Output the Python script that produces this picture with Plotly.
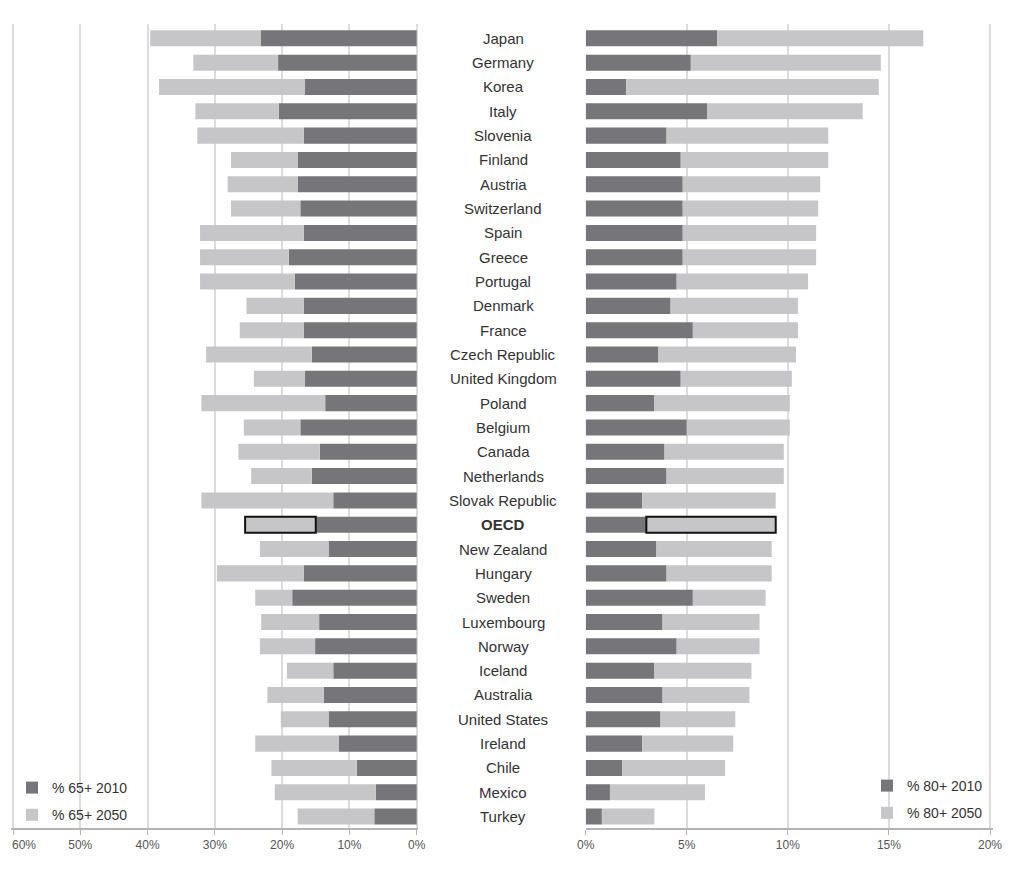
import plotly.graph_objects as go

countries = ["Japan", "Germany", "Korea", "Italy", "Slovenia", "Finland", "Austria",
             "Switzerland", "Spain", "Greece", "Portugal", "Denmark", "France",
             "Czech Republic", "United Kingdom", "Poland", "Belgium", "Canada",
             "Netherlands", "Slovak Republic", "OECD", "New Zealand", "Hungary",
             "Sweden", "Luxembourg", "Norway", "Iceland", "Australia", "United States",
             "Ireland", "Chile", "Mexico", "Turkey"]

p65_2010 = [23.2, 20.6, 16.6, 20.5, 16.8, 17.7, 17.7, 17.3, 16.8, 19.0, 18.1, 16.8, 16.8,
            15.6, 16.6, 13.6, 17.3, 14.4, 15.6, 12.4, 15.0, 13.1, 16.8, 18.5, 14.5, 15.1,
            12.4, 13.8, 13.1, 11.6, 8.9, 6.1, 6.3]
p65_2050 = [39.6, 33.2, 38.3, 32.9, 32.6, 27.6, 28.1, 27.6, 32.2, 32.2, 32.2, 25.3, 26.3,
            31.3, 24.2, 32.0, 25.7, 26.5, 24.6, 32.0, 25.5, 23.3, 29.7, 24.0, 23.1, 23.3,
            19.3, 22.2, 20.2, 24.0, 21.6, 21.1, 17.7]
p80_2010 = [6.5, 5.2, 2.0, 6.0, 4.0, 4.7, 4.8, 4.8, 4.8, 4.8, 4.5, 4.2, 5.3, 3.6, 4.7, 3.4,
            5.0, 3.9, 4.0, 2.8, 3.0, 3.5, 4.0, 5.3, 3.8, 4.5, 3.4, 3.8, 3.7, 2.8, 1.8, 1.2, 0.8]
p80_2050 = [16.7, 14.6, 14.5, 13.7, 12.0, 12.0, 11.6, 11.5, 11.4, 11.4, 11.0, 10.5, 10.5,
            10.4, 10.2, 10.1, 10.1, 9.8, 9.8, 9.4, 9.4, 9.2, 9.2, 8.9, 8.6, 8.6, 8.2, 8.1,
            7.4, 7.3, 6.9, 5.9, 3.4]

left_ticks = [0, 10, 20, 30, 40, 50, 60]
right_ticks = [0, 5, 10, 15, 20]
left_labels = ["%d%%" % v for v in left_ticks]
right_labels = ["%d%%" % v for v in right_ticks]

DARK = "#76767a"
LIGHT = "#c6c6c8"
GRID = "#dcdcdc"
FONT = "Liberation Sans, Arial, sans-serif"
TICKFONT = dict(family=FONT, size=12, color="#555555")

hl = ["OECD"]
line_w = [2 if c in hl else 0 for c in countries]

# figure is placed at an 8px page margin; positions below are screen px minus 8
W, H = 1008, 860
OFF = 8


def px(x):
    return (x - OFF) / W


def py(y):
    return (H - (y - OFF)) / H


fig = go.Figure()

fig.add_trace(go.Bar(
    y=countries, x=p65_2010, base=[0] * len(countries), orientation="h",
    marker=dict(color=DARK, line=dict(width=0)), name="% 65+ 2010",
    xaxis="x", yaxis="y", legend="legend", legendgroup="a"))
fig.add_trace(go.Bar(
    y=countries, x=[b - a for a, b in zip(p65_2010, p65_2050)], base=p65_2010,
    orientation="h", marker=dict(color=LIGHT, line=dict(width=line_w, color="#111111")),
    name="% 65+ 2050", xaxis="x", yaxis="y", legend="legend", legendgroup="b"))
fig.add_trace(go.Bar(
    y=countries, x=p80_2010, base=[0] * len(countries), orientation="h",
    marker=dict(color=DARK, line=dict(width=0)), name="% 80+ 2010",
    xaxis="x2", yaxis="y2", legend="legend2", legendgroup="c"))
fig.add_trace(go.Bar(
    y=countries, x=[b - a for a, b in zip(p80_2010, p80_2050)], base=p80_2010,
    orientation="h", marker=dict(color=LIGHT, line=dict(width=line_w, color="#111111")),
    name="% 80+ 2050", xaxis="x2", yaxis="y2", legend="legend2", legendgroup="d"))

ydom = [py(828), py(24)]
yrange = [32.47, -0.59]

axis_common = dict(showgrid=True, gridcolor=GRID, gridwidth=1.5, showline=True,
                   linecolor="#b5b5b5", linewidth=2, ticks="outside", ticklen=5,
                   tickcolor="#b5b5b5", zeroline=False, automargin=False,
                   tickfont=TICKFONT, fixedrange=True)

# left panel: 60% at x=13, 0% at x=416.7 ; right panel: 0% at 585.7, 20% at 990
lu = (416.7 - 13) / 60.0
ru = (990 - 585.7) / 20.0
l_range = [60.3, -0.15]
r_range = [0, 20.15]

# outermost left tick label is drawn as an annotation so it stays inside the page
axis_left_text = left_labels[:-1] + [""]

annotations = []
for c in countries:
    txt = "<b>%s</b>" % c if c in hl else c
    annotations.append(dict(x=px(503), xref="paper", y=c, yref="y", text=txt,
                            showarrow=False, xanchor="center", yanchor="middle",
                            font=dict(family=FONT, size=15, color="#333333")))
annotations.append(dict(x=left_ticks[-1], xref="x", y=py(845), yref="paper",
                        text=left_labels[-1], showarrow=False, xanchor="left",
                        yanchor="middle", xshift=-3, font=TICKFONT))

fig.update_layout(
    width=W, height=H, margin=dict(l=0, r=0, t=0, b=0, autoexpand=False),
    paper_bgcolor="white", plot_bgcolor="white",
    barmode="overlay", bargap=0.34,
    xaxis=dict(domain=[px(13 - 0.3 * lu), px(416.7 + 0.15 * lu)], range=l_range,
               tickvals=left_ticks, ticktext=axis_left_text, anchor="y", **axis_common),
    xaxis2=dict(domain=[px(585.7), px(990 + 0.15 * ru)], range=r_range,
                tickvals=right_ticks, ticktext=right_labels, anchor="y2", **axis_common),
    yaxis=dict(domain=ydom, range=yrange, showticklabels=False, showgrid=False,
               ticks="", showline=False, zeroline=False, anchor="x", fixedrange=True,
               automargin=False),
    yaxis2=dict(domain=ydom, range=yrange, showticklabels=False, showgrid=False,
                ticks="", showline=False, zeroline=False, anchor="x2", matches="y",
                fixedrange=True, automargin=False),
    legend=dict(x=px(12), xanchor="left", y=py(772), yanchor="top",
                bgcolor="rgba(255,255,255,0)", traceorder="grouped", tracegroupgap=6,
                font=dict(family=FONT, size=14, color="#333333"), itemwidth=30),
    legend2=dict(x=px(867), xanchor="left", y=py(770), yanchor="top",
                 bgcolor="rgba(255,255,255,0)", traceorder="grouped", tracegroupgap=6,
                 font=dict(family=FONT, size=14, color="#333333"), itemwidth=30),
    annotations=annotations,
    font=dict(family=FONT),
)

fig.write_html("out.html")
